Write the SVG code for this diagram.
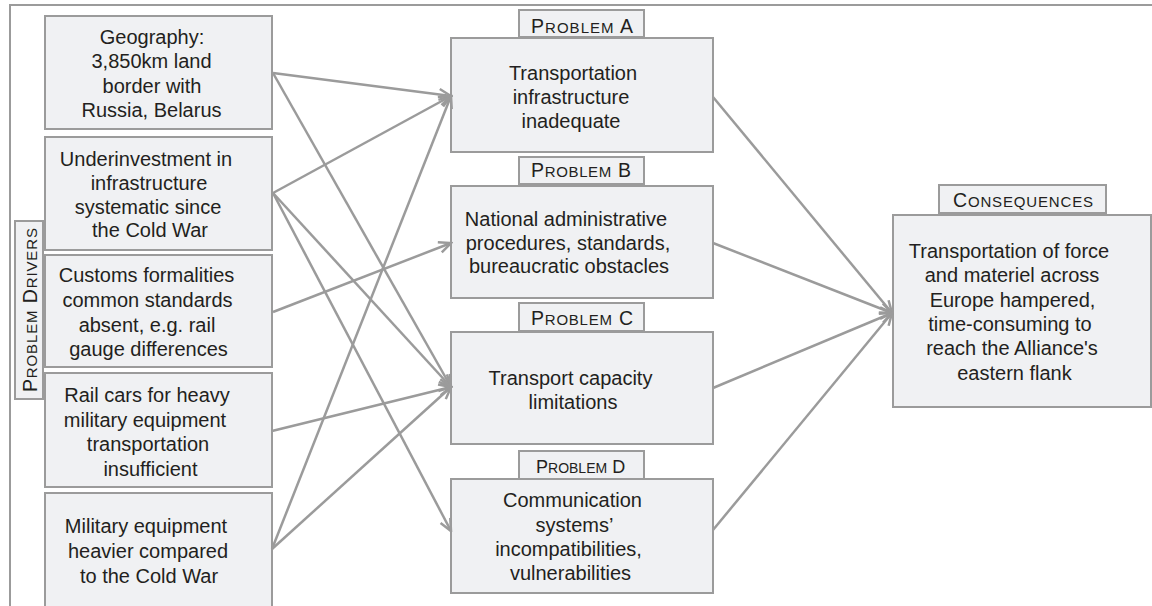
<svg xmlns="http://www.w3.org/2000/svg" width="1152" height="606" viewBox="0 0 1152 606">
<style>
.box{fill:#f0f1f3;stroke:#9b9b9b;stroke-width:2}
.tag{fill:#f0f1f3;stroke:#9b9b9b;stroke-width:2}
.t{font-family:"Liberation Sans",Arial,sans-serif;font-size:20px;fill:#231f20;text-anchor:middle}
.cap{font-family:"Liberation Sans",Arial,sans-serif;font-size:19.5px;fill:#231f20}
.sc{font-size:15px}
.c line{stroke:#9b9b9b;stroke-width:2.5;fill:none}
</style>
<defs>
<marker id="ah" markerUnits="userSpaceOnUse" viewBox="-14 -7 16 14" refX="0" refY="0" markerWidth="16" markerHeight="14" orient="auto">
<path d="M-12,-5.5 L0,0 L-12,5.5" fill="none" stroke="#9b9b9b" stroke-width="2.5"/>
</marker>
</defs>
<rect width="1152" height="606" fill="#ffffff"/>
<path d="M10,606 L10,5 L1152,5" fill="none" stroke="#9b9b9b" stroke-width="2"/>

<g id="label-drivers">
<rect class="tag" x="15" y="221" width="28" height="178"/>
<text class="cap" transform="translate(37,392) rotate(-90)" textLength="164" lengthAdjust="spacing">P<tspan class="sc">ROBLEM</tspan> D<tspan class="sc">RIVERS</tspan></text>
</g>

<g id="driver1">
<rect class="box" x="45" y="16" width="227" height="113"/>
<text class="t"><tspan x="152" y="44">Geography:</tspan><tspan x="151.5" y="68">3,850km land</tspan><tspan x="152" y="93">border with</tspan><tspan x="151.5" y="117">Russia, Belarus</tspan></text>
</g>
<g id="driver2">
<rect class="box" x="45" y="137" width="227" height="113"/>
<text class="t"><tspan x="146" y="166">Underinvestment in</tspan><tspan x="149" y="190">infrastructure</tspan><tspan x="148" y="214">systematic since</tspan><tspan x="150" y="237">the Cold War</tspan></text>
</g>
<g id="driver3">
<rect class="box" x="45" y="255" width="227" height="112"/>
<text class="t"><tspan x="146.5" y="282">Customs formalities</tspan><tspan x="147.5" y="307">common standards</tspan><tspan x="147" y="332">absent, e.g. rail</tspan><tspan x="148.5" y="356">gauge differences</tspan></text>
</g>
<g id="driver4">
<rect class="box" x="45" y="373" width="227" height="114"/>
<text class="t"><tspan x="147" y="402">Rail cars for heavy</tspan><tspan x="145" y="427">military equipment</tspan><tspan x="148" y="451">transportation</tspan><tspan x="150.5" y="476">insufficient</tspan></text>
</g>
<g id="driver5">
<rect class="box" x="45" y="493" width="227" height="120"/>
<text class="t"><tspan x="146" y="533">Military equipment</tspan><tspan x="148" y="558">heavier compared</tspan><tspan x="149" y="583">to the Cold War</tspan></text>
</g>

<g id="problemA">
<rect class="tag" x="519" y="10" width="125" height="27"/>
<text class="cap" x="531" y="33" textLength="102" lengthAdjust="spacing">P<tspan class="sc">ROBLEM</tspan> A</text>
<rect class="box" x="451" y="38" width="262" height="114"/>
<text class="t"><tspan x="573" y="80">Transportation</tspan><tspan x="571" y="104">infrastructure</tspan><tspan x="571" y="128">inadequate</tspan></text>
</g>
<g id="problemB">
<rect class="tag" x="519" y="157" width="125" height="27"/>
<text class="cap" x="531" y="177" textLength="100" lengthAdjust="spacing">P<tspan class="sc">ROBLEM</tspan> B</text>
<rect class="box" x="451" y="186" width="262" height="112"/>
<text class="t"><tspan x="566" y="226">National administrative</tspan><tspan x="568" y="250">procedures, standards,</tspan><tspan x="569" y="273">bureaucratic obstacles</tspan></text>
</g>
<g id="problemC">
<rect class="tag" x="519" y="303" width="125" height="28"/>
<text class="cap" x="531" y="325" textLength="102" lengthAdjust="spacing">P<tspan class="sc">ROBLEM</tspan> C</text>
<rect class="box" x="451" y="332" width="262" height="112"/>
<text class="t"><tspan x="570.5" y="385">Transport capacity</tspan><tspan x="573" y="409">limitations</tspan></text>
</g>
<g id="problemD">
<rect class="tag" x="519" y="451" width="125" height="28"/>
<text class="cap" x="536" y="473" style="font-size:18px">P<tspan style="font-size:14px">ROBLEM</tspan> D</text>
<rect class="box" x="451" y="479" width="262" height="114"/>
<text class="t"><tspan x="572.5" y="507">Communication</tspan><tspan x="574.5" y="532">systems’</tspan><tspan x="568.5" y="556">incompatibilities,</tspan><tspan x="570.5" y="580">vulnerabilities</tspan></text>
</g>

<g id="consequences">
<rect class="tag" x="939" y="185" width="167" height="28"/>
<text class="cap" x="953" y="207" textLength="140" lengthAdjust="spacing">C<tspan class="sc">ONSEQUENCES</tspan></text>
<rect class="box" x="893" y="215" width="258" height="192"/>
<text class="t"><tspan x="1009" y="258">Transportation of force</tspan><tspan x="1012" y="282">and materiel across</tspan><tspan x="1012.5" y="307">Europe hampered,</tspan><tspan x="1010" y="331">time-consuming to</tspan><tspan x="1012" y="355">reach the Alliance's</tspan><tspan x="1014.5" y="380">eastern flank</tspan></text>
</g>

<g id="connectors" class="c">
<line x1="273" y1="73" x2="451" y2="96" marker-end="url(#ah)"/>
<line x1="273" y1="73" x2="451" y2="387" marker-end="url(#ah)"/>
<line x1="273" y1="193" x2="451" y2="96" marker-end="url(#ah)"/>
<line x1="273" y1="193" x2="451" y2="387" marker-end="url(#ah)"/>
<line x1="273" y1="193" x2="451" y2="531" marker-end="url(#ah)"/>
<line x1="273" y1="312" x2="451" y2="243" marker-end="url(#ah)"/>
<line x1="272" y1="431" x2="451" y2="387" marker-end="url(#ah)"/>
<line x1="272" y1="549" x2="451" y2="96" marker-end="url(#ah)"/>
<line x1="272" y1="549" x2="451" y2="387" marker-end="url(#ah)"/>
<line x1="713" y1="97" x2="892" y2="313" marker-end="url(#ah)"/>
<line x1="713" y1="243" x2="892" y2="313" marker-end="url(#ah)"/>
<line x1="713" y1="388" x2="892" y2="313" marker-end="url(#ah)"/>
<line x1="713" y1="530" x2="892" y2="313" marker-end="url(#ah)"/>
</g>
</svg>
